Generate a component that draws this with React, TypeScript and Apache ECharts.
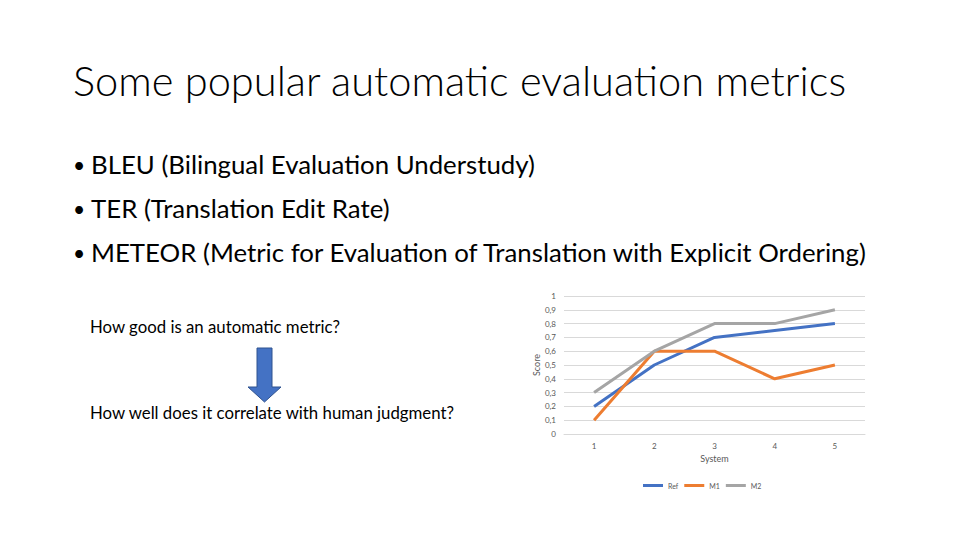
import React, { useEffect, useRef } from "react";
import * as echarts from "echarts";

const systems = ["1", "2", "3", "4", "5"];
const refScores = [0.2, 0.5, 0.7, 0.75, 0.8];
const m1Scores = [0.1, 0.6, 0.6, 0.4, 0.5];
const m2Scores = [0.3, 0.6, 0.8, 0.8, 0.9];

const title = "Some popular automatic evaluation metrics";
const bullets = [
  "BLEU (Bilingual Evaluation Understudy)",
  "TER (Translation Edit Rate)",
  "METEOR (Metric for Evaluation of Translation with Explicit Ordering)",
];
const question = "How good is an automatic metric?";
const answer = "How well does it correlate with human judgment?";

const FONT = "Lato, 'Noto Sans', sans-serif";

const App = () => {
  const chartRef = useRef<HTMLDivElement>(null);

  useEffect(() => {
    if (!chartRef.current) return;
    const chart = echarts.init(chartRef.current, undefined, { renderer: "svg" });

    const bulletTexts: any[] = [];
    bullets.forEach((b, i) => {
      const y = 164 + i * 44;
      bulletTexts.push({
        type: "text",
        x: 73,
        y,
        style: { text: "•", font: `21px ${FONT}`, fill: "#000", textVerticalAlign: "middle" },
      });
      bulletTexts.push({
        type: "text",
        x: 91,
        y,
        style: { text: b, font: `25.8px ${FONT}`, fill: "#000", textVerticalAlign: "middle" },
      });
    });

    const option: echarts.EChartsOption = {
      animation: false,
      backgroundColor: "#fff",
      color: ["#4472C4", "#ED7D31", "#A5A5A5"],
      grid: { left: 564, right: 95, top: 296, bottom: 106 },
      legend: {
        bottom: 46,
        left: 638,
        icon: "rect",
        itemWidth: 20,
        itemHeight: 3,
        itemGap: 6,
        textStyle: { fontSize: 7, color: "#595959", fontFamily: FONT },
        data: ["Ref", "M1", "M2"],
      },
      xAxis: {
        type: "category",
        data: systems,
        boundaryGap: true,
        name: "System",
        nameLocation: "middle",
        nameGap: 20,
        nameTextStyle: { fontSize: 9, color: "#595959", fontFamily: FONT },
        axisLine: { lineStyle: { color: "#D9D9D9" } },
        axisTick: { show: false },
        axisLabel: { fontSize: 8, color: "#595959", margin: 8, fontFamily: FONT },
      },
      yAxis: {
        type: "value",
        min: 0,
        max: 1,
        interval: 0.1,
        name: "Score",
        nameLocation: "middle",
        nameGap: 23,
        nameTextStyle: { fontSize: 9, color: "#595959", fontFamily: FONT },
        axisLine: { show: false },
        axisTick: { show: false },
        splitLine: { lineStyle: { color: "#D9D9D9" } },
        axisLabel: {
          fontSize: 8,
          color: "#595959",
          margin: 8,
          fontFamily: FONT,
          formatter: (v: number) => (Math.round(v * 10) / 10).toString().replace(".", ","),
        },
      },
      series: [
        { name: "Ref", type: "line", data: refScores, showSymbol: false, lineStyle: { width: 3 } },
        { name: "M1", type: "line", data: m1Scores, showSymbol: false, lineStyle: { width: 3 } },
        { name: "M2", type: "line", data: m2Scores, showSymbol: false, lineStyle: { width: 3 } },
      ],
      graphic: [
        {
          type: "text",
          x: 73,
          y: 80,
          style: { text: title, font: `300 41.6px ${FONT}`, fill: "#000", textVerticalAlign: "middle" },
        },
        ...bulletTexts,
        {
          type: "text",
          x: 90,
          y: 326,
          style: { text: question, font: `16.8px ${FONT}`, fill: "#000", textVerticalAlign: "middle" },
        },
        {
          type: "text",
          x: 90,
          y: 412,
          style: { text: answer, font: `16.8px ${FONT}`, fill: "#000", textVerticalAlign: "middle" },
        },
        {
          type: "polygon",
          shape: {
            points: [
              [257, 348],
              [272, 348],
              [272, 387],
              [281, 387],
              [264.5, 402],
              [248, 387],
              [257, 387],
            ],
          },
          style: { fill: "#4472C4", stroke: "#2F528F", lineWidth: 1 },
        },
      ],
    };

    chart.setOption(option);
    return () => chart.dispose();
  }, []);

  return (
    <div
      ref={chartRef}
      style={{ position: "fixed", left: 0, top: 0, width: 960, height: 540 }}
    />
  );
};

export default App;
